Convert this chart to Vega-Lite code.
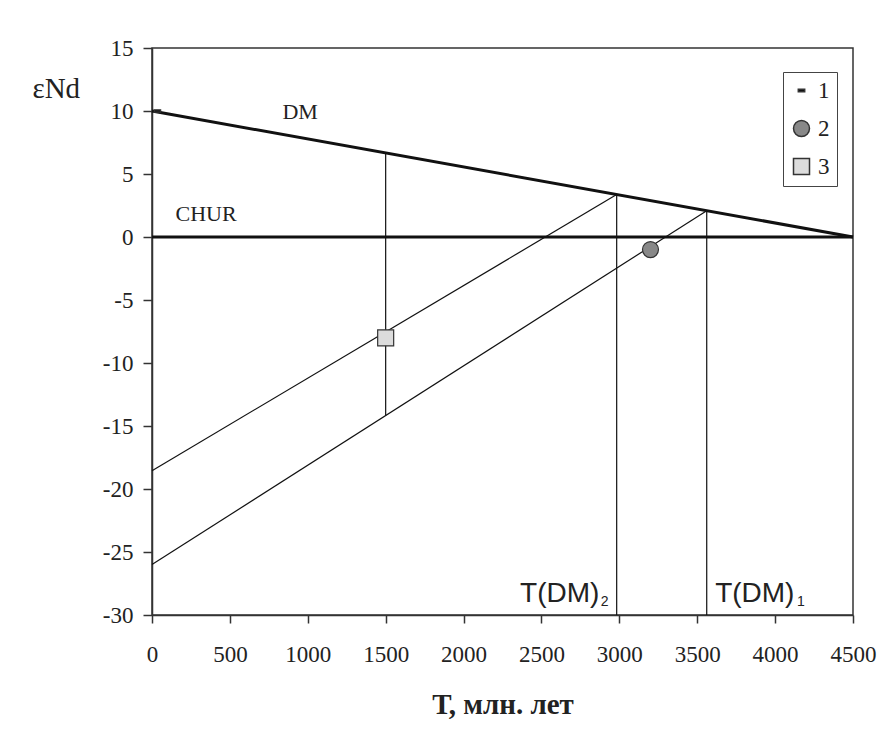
{
  "$schema": "https://vega.github.io/schema/vega-lite/v6.json",
  "width": 701,
  "height": 567,
  "autosize": {"type": "none"},
  "padding": {"left": 152, "top": 48, "right": 25, "bottom": 118},
  "background": "white",
  "config": {
    "view": {"stroke": "#333", "strokeWidth": 1.5},
    "axis": {
      "domainColor": "#333", "domainWidth": 1.5, "tickColor": "#333", "tickWidth": 1.5,
      "labelFont": "Liberation Serif", "labelFontSize": 23, "labelColor": "#222",
      "titleFont": "Liberation Serif", "titleColor": "#222", "grid": false
    }
  },
  "layer": [
    {
      "data": {"values": [
        {"name": "DM", "t1": 0, "e1": 10, "t2": 4500, "e2": 0},
        {"name": "CHUR", "t1": 0, "e1": 0, "t2": 4500, "e2": 0}
      ]},
      "mark": {"type": "rule", "color": "#111", "strokeWidth": 3},
      "encoding": {
        "x": {"field": "t1", "type": "quantitative",
          "scale": {"domain": [0, 4500], "nice": false},
          "axis": {"values": [0, 500, 1000, 1500, 2000, 2500, 3000, 3500, 4000, 4500],
            "labelExpr": "'' + datum.value",
            "tickSize": 8, "labelPadding": 20, "labelFlush": false,
            "title": "Т, млн. лет", "titleFontSize": 29, "titleFontWeight": "bold",
            "titleX": 350.5, "titleY": 98, "titleAlign": "center", "titleBaseline": "alphabetic"}},
        "y": {"field": "e1", "type": "quantitative",
          "scale": {"domain": [-30, 15], "nice": false},
          "axis": {"values": [-30, -25, -20, -15, -10, -5, 0, 5, 10, 15],
            "labelExpr": "'' + datum.value",
            "tickSize": 9, "labelPadding": 10, "labelFlush": false,
            "title": "εNd", "titleFontSize": 29, "titleFontWeight": "normal", "titleAngle": 0,
            "titleX": -120, "titleY": 49, "titleAlign": "left", "titleBaseline": "alphabetic"}},
        "x2": {"field": "t2"},
        "y2": {"field": "e2"}
      }
    },
    {
      "data": {"values": [
        {"name": "evol2", "t1": 0, "e1": -18.55, "t2": 2983, "e2": 3.37},
        {"name": "evol1", "t1": 0, "e1": -26.0, "t2": 3561, "e2": 2.09},
        {"name": "v1500", "t1": 1500, "e1": 6.67, "t2": 1500, "e2": -14.17},
        {"name": "vTDM2", "t1": 2983, "e1": 3.37, "t2": 2983, "e2": -30},
        {"name": "vTDM1", "t1": 3561, "e1": 2.09, "t2": 3561, "e2": -30}
      ]},
      "mark": {"type": "rule", "color": "#111", "strokeWidth": 1.2},
      "encoding": {
        "x": {"field": "t1", "type": "quantitative"},
        "y": {"field": "e1", "type": "quantitative"},
        "x2": {"field": "t2"},
        "y2": {"field": "e2"}
      }
    },
    {
      "data": {"values": [
        {"series": "1", "t": 35, "e": 10},
        {"series": "2", "t": 3200, "e": -1},
        {"series": "3", "t": 1500, "e": -8}
      ]},
      "mark": {"type": "point", "filled": true, "opacity": 1, "size": 256, "stroke": "#333", "strokeWidth": 1.2},
      "encoding": {
        "x": {"field": "t", "type": "quantitative"},
        "y": {"field": "e", "type": "quantitative"},
        "shape": {"field": "series", "type": "nominal",
          "scale": {"domain": ["1", "2", "3"], "range": ["M-0.4,-0.15H0.4V0.15H-0.4Z", "circle", "square"]},
          "legend": {"title": null, "orient": "none", "legendX": 631, "legendY": 24,
            "strokeColor": "#444", "padding": 7, "rowPadding": 14, "symbolSize": 256,
            "labelFont": "Liberation Serif", "labelFontSize": 23, "labelColor": "#222", "labelOffset": 5,
            "encode": {"symbols": {"update": {"stroke": {"value": "#333"}, "strokeWidth": {"value": 1.2}, "opacity": {"value": 1}}}}}},
        "fill": {"field": "series", "type": "nominal",
          "scale": {"domain": ["1", "2", "3"], "range": ["#111111", "#888888", "#dcdcdc"]},
          "legend": {"title": null, "orient": "none", "legendX": 631, "legendY": 24,
            "strokeColor": "#444", "padding": 7, "rowPadding": 14, "symbolSize": 256,
            "labelFont": "Liberation Serif", "labelFontSize": 23, "labelColor": "#222", "labelOffset": 5,
            "encode": {"symbols": {"update": {"stroke": {"value": "#333"}, "strokeWidth": {"value": 1.2}, "opacity": {"value": 1}}}}}}
      }
    },
    {
      "data": {"values": [
        {"label": "DM", "t": 837, "e": 9.34},
        {"label": "CHUR", "t": 151, "e": 1.27}
      ]},
      "mark": {"type": "text", "font": "Liberation Serif", "fontSize": 22, "color": "#222", "baseline": "alphabetic", "align": "left"},
      "encoding": {
        "x": {"field": "t", "type": "quantitative"},
        "y": {"field": "e", "type": "quantitative"},
        "text": {"field": "label"}
      }
    },
    {
      "data": {"values": [
        {"label": "T(DM)", "t": 2363, "e": -28.94},
        {"label": "T(DM)", "t": 3615, "e": -28.94}
      ]},
      "mark": {"type": "text", "font": "Liberation Sans", "fontSize": 28, "color": "#222", "baseline": "alphabetic", "align": "left"},
      "encoding": {
        "x": {"field": "t", "type": "quantitative"},
        "y": {"field": "e", "type": "quantitative"},
        "text": {"field": "label"}
      }
    },
    {
      "data": {"values": [
        {"label": "2", "t": 2880, "e": -29.3},
        {"label": "1", "t": 4140, "e": -29.3}
      ]},
      "mark": {"type": "text", "font": "Liberation Sans", "fontSize": 14, "color": "#222", "baseline": "alphabetic", "align": "left"},
      "encoding": {
        "x": {"field": "t", "type": "quantitative"},
        "y": {"field": "e", "type": "quantitative"},
        "text": {"field": "label"}
      }
    }
  ]
}
